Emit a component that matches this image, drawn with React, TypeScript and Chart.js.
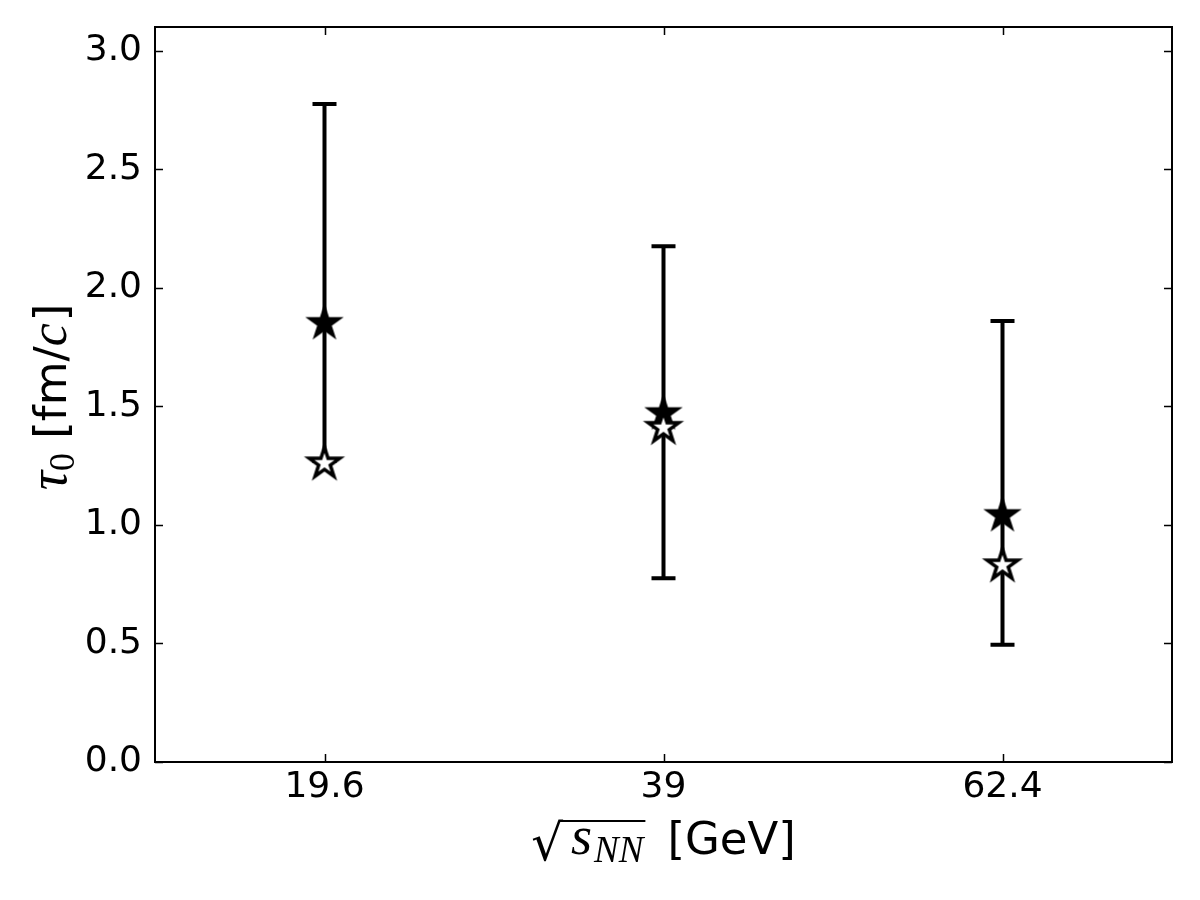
import React, { useEffect, useRef } from 'react';
import { Chart, registerables } from 'chart.js';
Chart.register(...registerables);

const categories = ['19.6', '39', '62.4'];
const filledStar = [1.85, 1.47, 1.04];
const openStar = [1.26, 1.41, 0.83];
const errLow = [1.27, 0.775, 0.495];
const errHigh = [2.775, 2.175, 1.86];
const yMin = 0;
const yMax = 3.1;
const yStep = 0.5;

const SANS = "'DejaVu Sans', sans-serif";
const SERIF = "'Liberation Serif', 'DejaVu Serif', serif";

function makeStar(R: number, fill: string, stroke: string, lw: number) {
  let size = Math.ceil(2 * R + lw * 2 + 4);
  if (size % 2) size += 1;
  const c = document.createElement('canvas');
  c.width = size;
  c.height = size;
  const ctx = c.getContext('2d')!;
  const cx = size / 2;
  const cy = size / 2;
  ctx.beginPath();
  for (let i = 0; i < 10; i++) {
    const r = i % 2 === 0 ? R : R * 0.381966;
    const a = -Math.PI / 2 + (i * Math.PI) / 5;
    const x = cx + r * Math.cos(a);
    const y = cy + r * Math.sin(a);
    if (i === 0) ctx.moveTo(x, y);
    else ctx.lineTo(x, y);
  }
  ctx.closePath();
  ctx.fillStyle = fill;
  ctx.fill();
  if (lw > 0) {
    ctx.lineWidth = lw;
    ctx.strokeStyle = stroke;
    ctx.lineJoin = 'miter';
    ctx.miterLimit = 4;
    ctx.stroke();
  }
  return c;
}

type Run = { text: string; font: string; dy: number; gap?: number };

function drawRuns(ctx: CanvasRenderingContext2D, runs: Run[], cx: number, baseY: number) {
  let total = 0;
  const widths: number[] = [];
  for (const r of runs) {
    ctx.font = r.font;
    const w = ctx.measureText(r.text).width;
    widths.push(w);
    total += w + (r.gap || 0);
  }
  let x = cx - total / 2;
  const xs: number[] = [];
  runs.forEach((r, i) => {
    ctx.font = r.font;
    ctx.textBaseline = 'alphabetic';
    ctx.textAlign = 'left';
    xs.push(x);
    ctx.fillText(r.text, x, baseY + r.dy);
    x += widths[i] + (r.gap || 0);
  });
  return { xs, widths };
}

const errorBarPlugin = {
  id: 'errorBars',
  beforeDatasetsDraw(chart: any) {
    const ctx = chart.ctx as CanvasRenderingContext2D;
    const xs = chart.scales.x;
    const ys = chart.scales.y;
    ctx.save();
    ctx.strokeStyle = '#000';
    ctx.lineWidth = 4;
    ctx.lineCap = 'butt';
    for (let i = 0; i < categories.length; i++) {
      const px = xs.getPixelForValue(i);
      const lo = ys.getPixelForValue(errLow[i]);
      const hi = ys.getPixelForValue(errHigh[i]);
      ctx.beginPath();
      ctx.moveTo(px, lo);
      ctx.lineTo(px, hi);
      ctx.moveTo(px - 12, lo);
      ctx.lineTo(px + 12, lo);
      ctx.moveTo(px - 12, hi);
      ctx.lineTo(px + 12, hi);
      ctx.stroke();
    }
    ctx.restore();
  },
};

const framePlugin = {
  id: 'frameTicks',
  afterDatasetsDraw(chart: any) {
    const ctx = chart.ctx as CanvasRenderingContext2D;
    const a = chart.chartArea;
    const xs = chart.scales.x;
    const ys = chart.scales.y;
    ctx.save();
    ctx.strokeStyle = '#000';
    ctx.lineWidth = 1.5;
    ctx.beginPath();
    ys.ticks.forEach((_t: any, i: number) => {
      const py = Math.round(ys.getPixelForTick(i)) + 0.5;
      ctx.moveTo(a.left, py);
      ctx.lineTo(a.left + 8, py);
      ctx.moveTo(a.right, py);
      ctx.lineTo(a.right - 8, py);
    });
    xs.ticks.forEach((_t: any, i: number) => {
      const px = Math.round(xs.getPixelForTick(i)) + 0.5;
      ctx.moveTo(px, a.bottom);
      ctx.lineTo(px, a.bottom - 8);
      ctx.moveTo(px, a.top);
      ctx.lineTo(px, a.top + 8);
    });
    ctx.stroke();
    ctx.lineWidth = 2;
    ctx.strokeRect(a.left, a.top, a.right - a.left, a.bottom - a.top);
    ctx.restore();
  },
  afterDraw(chart: any) {
    const ctx = chart.ctx as CanvasRenderingContext2D;
    const a = chart.chartArea;
    ctx.save();
    ctx.fillStyle = '#000';
    // x-axis title: sqrt(s_NN) [GeV]
    const cx = (a.left + a.right) / 2;
    const base = 854;
    const runs: Run[] = [
      { text: '\u221A', font: `50px ${SANS}`, dy: 6, gap: 8 },
      { text: 's', font: `italic 54px ${SERIF}`, dy: 0, gap: 2 },
      { text: 'NN', font: `italic 37px ${SERIF}`, dy: 8, gap: 24 },
      { text: '[GeV]', font: `45px ${SANS}`, dy: 0 },
    ];
    const res = drawRuns(ctx, runs, cx, base);
    ctx.strokeStyle = '#000';
    ctx.lineWidth = 2;
    ctx.beginPath();
    const ox0 = res.xs[0] + res.widths[0] - 3;
    const ox1 = res.xs[2] + res.widths[2] + 2;
    ctx.moveTo(ox0, 821);
    ctx.lineTo(ox1, 821);
    ctx.stroke();

    // y-axis title: tau_0 [fm/c]
    ctx.translate(66, 397);
    ctx.rotate(-Math.PI / 2);
    const yruns: Run[] = [
      { text: '\u03C4', font: `italic 54px ${SERIF}`, dy: 0, gap: 0 },
      { text: '0', font: `36px ${SERIF}`, dy: 8, gap: 0 },
      { text: ' [fm/', font: `45px ${SANS}`, dy: 0, gap: 0 },
      { text: 'c', font: `italic 52px ${SERIF}`, dy: 0, gap: 2 },
      { text: ']', font: `45px ${SANS}`, dy: 0 },
    ];
    drawRuns(ctx, yruns, 0, 0);
    ctx.restore();
  },
};

export default function App() {
  const ref = useRef<HTMLCanvasElement | null>(null);
  useEffect(() => {
    if (!ref.current) return;
    const filledImg = makeStar(17, '#000', '#000', 2);
    const openImg = makeStar(16, '#fff', '#000', 3.5);
    const chart = new Chart(ref.current, {
      type: 'line',
      data: {
        labels: categories,
        datasets: [
          {
            label: 'open',
            data: openStar,
            showLine: false,
            pointStyle: openImg as any,
            pointRadius: 16,
            borderColor: '#000',
            backgroundColor: '#fff',
          },
          {
            label: 'filled',
            data: filledStar,
            showLine: false,
            pointStyle: filledImg as any,
            pointRadius: 16,
            borderColor: '#000',
            backgroundColor: '#000',
          },
        ],
      },
      options: {
        responsive: false,
        animation: false,
        devicePixelRatio: 1,
        layout: { padding: { top: 27, right: 28, left: 0, bottom: 0 } },
        plugins: {
          legend: { display: false },
          tooltip: { enabled: false },
          title: { display: false },
        },
        scales: {
          x: {
            type: 'category',
            offset: true,
            grid: { display: false, drawTicks: false },
            border: { display: false },
            ticks: {
              color: '#000',
              font: { family: SANS, size: 36 },
              padding: 4,
              maxRotation: 0,
            },
            afterFit: (s: any) => {
              s.height = 138;
              s.paddingLeft = 0;
              s.paddingRight = 0;
            },
          },
          y: {
            type: 'linear',
            min: yMin,
            max: yMax,
            grid: { display: false, drawTicks: false },
            border: { display: false },
            ticks: {
              stepSize: yStep,
              includeBounds: false,
              color: '#000',
              font: { family: SANS, size: 36 },
              padding: 13,
              callback: (v: any) => Number(v).toFixed(1),
            },
            afterFit: (s: any) => {
              s.width = 155;
              s.paddingTop = 0;
              s.paddingBottom = 0;
            },
          },
        },
      },
      plugins: [errorBarPlugin, framePlugin],
    });
    return () => chart.destroy();
  }, []);
  return (
    <div style={{ position: 'fixed', left: 0, top: 0, width: 1200, height: 900, background: '#fff' }}>
      <canvas ref={ref} width={1200} height={900} style={{ display: 'block' }} />
    </div>
  );
}
